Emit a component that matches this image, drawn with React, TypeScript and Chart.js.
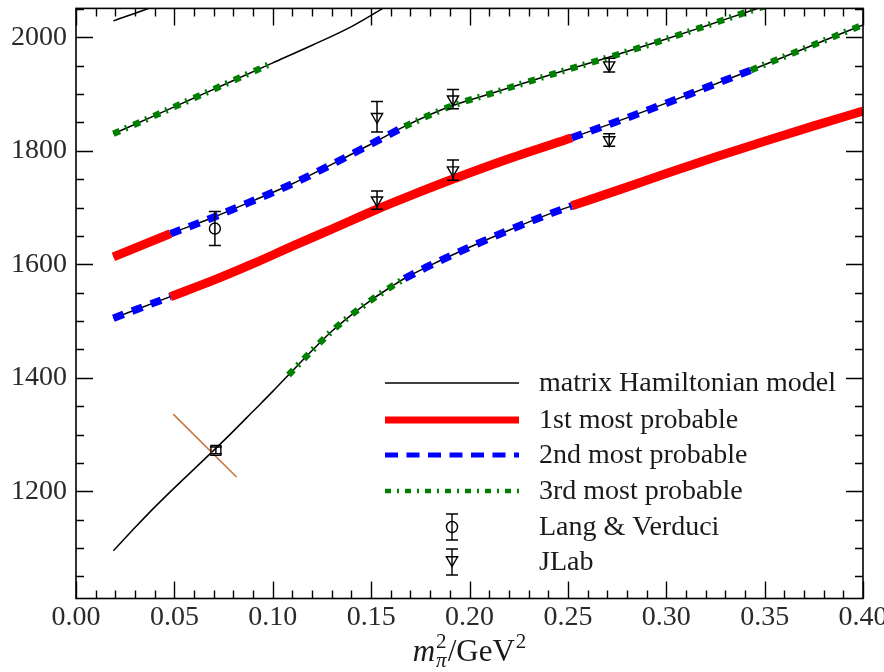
import React, { useEffect, useRef } from "react";
import { Chart, registerables } from "chart.js";

Chart.register(...registerables);

// ---------- axes ----------
const X_MIN = 0;
const X_MAX = 0.4;
const Y_MIN = 1011;
const Y_MAX = 2051;
const xTicks = [0, 0.05, 0.1, 0.15, 0.2, 0.25, 0.3, 0.35, 0.4];
const yTicks = [1200, 1400, 1600, 1800, 2000];
const xMinorStep = 0.01;
const yMinorStep = 50;

// ---------- eigenvalue curves (matrix Hamiltonian model) ----------
const curveAX = [0.019, 0.03, 0.04, 0.05, 0.06, 0.07, 0.08, 0.09, 0.1, 0.108, 0.12, 0.13, 0.14, 0.15, 0.16, 0.167, 0.18, 0.2, 0.22, 0.24, 0.252, 0.28, 0.3, 0.325, 0.35, 0.375, 0.4];
const curveAY = [1095, 1136, 1172, 1206, 1239, 1272, 1306, 1341, 1376, 1405, 1448, 1482, 1511, 1537, 1560, 1575, 1598, 1630, 1660, 1688, 1703, 1736, 1760, 1789, 1817, 1844, 1870];

const curveBX = [0.019, 0.048, 0.07, 0.09, 0.11, 0.13, 0.153, 0.17, 0.19, 0.22, 0.252, 0.28, 0.3, 0.32, 0.343, 0.37, 0.4];
const curveBY = [1505, 1543, 1572, 1601, 1632, 1662, 1697, 1721, 1748, 1786, 1823, 1858, 1884, 1911, 1942, 1980, 2022];

const curveCX = [0.019, 0.048, 0.07, 0.09, 0.11, 0.13, 0.15, 0.167, 0.19, 0.21, 0.244, 0.27, 0.3, 0.32, 0.343, 0.36];
const curveCY = [1613, 1654, 1683, 1712, 1742, 1776, 1812, 1843, 1878, 1900, 1937, 1964, 1997, 2020, 2047, 2066];

const curveDX = [0.019, 0.04, 0.06, 0.08, 0.1, 0.12, 0.14, 0.156, 0.17];
const curveDY = [1830, 1862, 1893, 1924, 1955, 1986, 2019, 2051, 2078];

const curveEX = [0.019, 0.04, 0.05];
const curveEY = [2029, 2055, 2070];

// ---------- most-probable-state segments: [curve, x from, x to] ----------
const redSegments: [string, number, number][] = [["C", 0.019, 0.048], ["B", 0.048, 0.252], ["A", 0.252, 0.4]];
const blueSegments: [string, number, number][] = [["B", 0.019, 0.048], ["C", 0.048, 0.167], ["A", 0.167, 0.252], ["B", 0.252, 0.343]];
const greenSegments: [string, number, number][] = [["D", 0.019, 0.1], ["C", 0.167, 0.36], ["A", 0.108, 0.167], ["B", 0.343, 0.4]];

// ---------- lattice data ----------
const langX = [0.0706];
const langY = [1663];
const langErr = [30];

const squareX = [0.0711];
const squareY = [1272];
const squareErr = [6];

const jlabX = [0.153, 0.153, 0.1916, 0.1916, 0.271, 0.271];
const jlabY = [1860, 1713, 1891, 1766, 1951, 1819];
const jlabErr = [27, 16, 17, 18, 12, 11];

// cross line through the physical point
const crossX = [0.0494, 0.0816];
const crossY = [1336, 1225];

const legendLabels = [
  "matrix Hamiltonian model",
  "1st most probable",
  "2nd most probable",
  "3rd most probable",
  "Lang & Verduci",
  "JLab",
];

const FONT = '"Liberation Serif", "Times New Roman", serif';
const RED = "#ff0000";
const BLUE = "#0000ff";
const GREEN = "#008000";
const BLUE_DASH = [11, 9];
const GREEN_DASH = [7, 6, 2, 7];

const curves: Record<string, { x: number[]; y: number[] }> = {
  A: { x: curveAX, y: curveAY },
  B: { x: curveBX, y: curveBY },
  C: { x: curveCX, y: curveCY },
  D: { x: curveDX, y: curveDY },
  E: { x: curveEX, y: curveEY },
};

function points(key: string, from = -Infinity, to = Infinity) {
  const c = curves[key];
  return c.x
    .map((x, i) => ({ x, y: c.y[i] }))
    .filter((p) => p.x >= from - 1e-9 && p.x <= to + 1e-9);
}

const lineBase = {
  showLine: true,
  pointRadius: 0,
  pointHoverRadius: 0,
  fill: false,
  cubicInterpolationMode: "monotone" as const,
  clip: 0,
  borderCapStyle: "butt" as const,
};

function buildDatasets() {
  const ds: any[] = [];
  ds.push({
    label: "JLab",
    data: jlabX.map((x, i) => ({ x, y: jlabY[i] })),
    yErr: jlabErr,
    showLine: false,
    pointStyle: "triangle",
    rotation: 180,
    pointRadius: 6.5,
    pointBorderWidth: 1.4,
    pointBorderColor: "#000",
    pointBackgroundColor: "rgba(0,0,0,0)",
    order: 1,
  });
  ds.push({
    label: "Lang & Verduci",
    data: langX.map((x, i) => ({ x, y: langY[i] })),
    yErr: langErr,
    showLine: false,
    pointStyle: "circle",
    pointRadius: 5.5,
    pointBorderWidth: 1.4,
    pointBorderColor: "#000",
    pointBackgroundColor: "rgba(0,0,0,0)",
    order: 1,
  });
  ds.push({
    label: "physical",
    data: squareX.map((x, i) => ({ x, y: squareY[i] })),
    yErr: squareErr,
    showLine: false,
    pointStyle: "rect",
    pointRadius: 7,
    pointBorderWidth: 1.4,
    pointBorderColor: "#000",
    pointBackgroundColor: "rgba(0,0,0,0)",
    order: 1,
  });
  ds.push({
    ...lineBase,
    label: "cross",
    data: crossX.map((x, i) => ({ x, y: crossY[i] })),
    cubicInterpolationMode: "default",
    borderColor: "#c8743c",
    borderWidth: 1.5,
    order: 2,
  });
  redSegments.forEach(([k, a, b]) =>
    ds.push({ ...lineBase, label: "1st", data: points(k, a, b), borderColor: RED, borderWidth: 9, order: 3 })
  );
  blueSegments.forEach(([k, a, b]) =>
    ds.push({ ...lineBase, label: "2nd", data: points(k, a, b), borderColor: BLUE, borderWidth: 7.5, borderDash: BLUE_DASH, order: 4 })
  );
  greenSegments.forEach(([k, a, b]) =>
    ds.push({ ...lineBase, label: "3rd", data: points(k, a, b), borderColor: GREEN, borderWidth: 6.5, borderDash: GREEN_DASH, order: 5 })
  );
  ["A", "B", "C", "D", "E"].forEach((k) =>
    ds.push({ ...lineBase, label: "model", data: points(k), borderColor: "#000", borderWidth: 1.5, order: 6 })
  );
  return ds;
}

function downTriangle(ctx: CanvasRenderingContext2D, x: number, y: number, r: number) {
  ctx.beginPath();
  ctx.moveTo(x - r * 0.866, y - r * 0.5);
  ctx.lineTo(x + r * 0.866, y - r * 0.5);
  ctx.lineTo(x, y + r);
  ctx.closePath();
  ctx.stroke();
}

function errorBar(ctx: CanvasRenderingContext2D, x: number, y0: number, y1: number, cap: number) {
  ctx.beginPath();
  ctx.moveTo(x, y0);
  ctx.lineTo(x, y1);
  ctx.moveTo(x - cap, y0);
  ctx.lineTo(x + cap, y0);
  ctx.moveTo(x - cap, y1);
  ctx.lineTo(x + cap, y1);
  ctx.stroke();
}

const decorPlugin = {
  id: "decor",
  afterDraw(chart: any) {
    const ctx: CanvasRenderingContext2D = chart.ctx;
    const xs = chart.scales.x;
    const ys = chart.scales.y;
    const { left, right, top, bottom } = chart.chartArea;
    ctx.save();

    // error bars
    ctx.strokeStyle = "#000";
    ctx.lineWidth = 1.5;
    chart.data.datasets.forEach((d: any) => {
      if (!d.yErr) return;
      d.data.forEach((p: any, i: number) => {
        const px = xs.getPixelForValue(p.x);
        errorBar(ctx, px, ys.getPixelForValue(p.y + d.yErr[i]), ys.getPixelForValue(p.y - d.yErr[i]), 6);
      });
    });

    // frame
    ctx.lineWidth = 1.6;
    ctx.strokeRect(left, top, right - left, bottom - top);

    // ticks (inward on all sides)
    ctx.lineWidth = 1.4;
    const MAJ = 17;
    const MIN = 8;
    ctx.beginPath();
    const nx = Math.round((X_MAX - X_MIN) / xMinorStep);
    for (let k = 0; k <= nx; k++) {
      const v = X_MIN + k * xMinorStep;
      const isMajor = xTicks.some((t) => Math.abs(t - v) < 1e-9);
      const len = isMajor ? MAJ : MIN;
      const px = Math.round(xs.getPixelForValue(v)) + 0.5;
      ctx.moveTo(px, bottom);
      ctx.lineTo(px, bottom - len);
      ctx.moveTo(px, top);
      ctx.lineTo(px, top + len);
    }
    for (let v = Math.ceil(Y_MIN / yMinorStep) * yMinorStep; v <= Y_MAX; v += yMinorStep) {
      const isMajor = yTicks.includes(v);
      const len = isMajor ? MAJ : MIN;
      const py = Math.round(ys.getPixelForValue(v)) + 0.5;
      ctx.moveTo(left, py);
      ctx.lineTo(left + len, py);
      ctx.moveTo(right, py);
      ctx.lineTo(right - len, py);
    }
    ctx.stroke();

    // legend
    const rowsY = [383, 420, 455, 491, 527, 562];
    const lx0 = 385;
    const lx1 = 519;
    const tx = 539;
    const mx = 452;
    ctx.lineCap = "butt";
    const drawLegLine = (y: number, color: string, w: number, dash: number[]) => {
      ctx.save();
      ctx.strokeStyle = color;
      ctx.lineWidth = w;
      ctx.setLineDash(dash);
      ctx.beginPath();
      ctx.moveTo(lx0, y);
      ctx.lineTo(lx1, y);
      ctx.stroke();
      ctx.restore();
    };
    drawLegLine(rowsY[0], "#000", 1.5, []);
    drawLegLine(rowsY[1], RED, 7, []);
    drawLegLine(rowsY[2], BLUE, 5, [13, 8.5]);
    drawLegLine(rowsY[3], GREEN, 4.5, [6, 6, 2, 6]);
    ctx.strokeStyle = "#000";
    ctx.lineWidth = 1.4;
    errorBar(ctx, mx, rowsY[4] - 13, rowsY[4] + 13, 6);
    ctx.beginPath();
    ctx.arc(mx, rowsY[4], 5.5, 0, Math.PI * 2);
    ctx.stroke();
    errorBar(ctx, mx, rowsY[5] - 13, rowsY[5] + 13, 6);
    downTriangle(ctx, mx, rowsY[5] - 2, 6.5);

    ctx.fillStyle = "#1a1a1a";
    ctx.font = `28px ${FONT}`;
    ctx.textAlign = "left";
    ctx.textBaseline = "middle";
    legendLabels.forEach((t, i) => ctx.fillText(t, tx, rowsY[i] + 1));

    // x-axis title: m_pi^2 / GeV^2
    const big = `31px ${FONT}`;
    const bigIt = `italic 31px ${FONT}`;
    const small = `21px ${FONT}`;
    const smallIt = `italic 21px ${FONT}`;
    const base = 661;
    ctx.textBaseline = "alphabetic";
    ctx.font = bigIt;
    const wM = ctx.measureText("m").width;
    ctx.font = small;
    const wSup = ctx.measureText("2").width;
    ctx.font = smallIt;
    const wPi = ctx.measureText("π").width;
    ctx.font = big;
    const wRest = ctx.measureText("/GeV").width;
    const total = wM + Math.max(wSup, wPi) + 2 + wRest + wSup + 1;
    let x = (left + right) / 2 - total / 2;
    ctx.font = bigIt;
    ctx.fillText("m", x, base);
    x += wM + 1;
    ctx.font = small;
    ctx.fillText("2", x, base - 13);
    ctx.font = smallIt;
    ctx.fillText("π", x, base + 6);
    x += Math.max(wSup, wPi) + 1;
    ctx.font = big;
    ctx.fillText("/GeV", x, base);
    x += wRest + 1;
    ctx.font = small;
    ctx.fillText("2", x, base - 13);

    ctx.restore();
  },
};

export default function App() {
  const ref = useRef<HTMLCanvasElement>(null);
  useEffect(() => {
    const canvas = ref.current!;
    const chart = new Chart(canvas, {
      type: "scatter",
      data: { datasets: buildDatasets() },
      options: {
        responsive: false,
        animation: false,
        devicePixelRatio: 1,
        events: [],
        layout: { padding: { left: 0, top: 5, right: 57, bottom: 0 } },
        plugins: { legend: { display: false }, tooltip: { enabled: false } },
        scales: {
          x: {
            type: "linear",
            min: X_MIN,
            max: X_MAX,
            grid: { display: false, drawTicks: false },
            border: { display: false },
            ticks: {
              font: { family: FONT, size: 28, lineHeight: 1 },
              color: "#2a2a2a",
              padding: 5,
              maxRotation: 0,
              autoSkip: false,
              callback: (v: any) => Number(v).toFixed(2),
            },
            afterBuildTicks: (s: any) => {
              s.ticks = xTicks.map((v) => ({ value: v }));
            },
            afterFit: (s: any) => {
              s.height = 73.5;
              s.paddingLeft = 0;
              s.paddingRight = 0;
            },
          },
          y: {
            type: "linear",
            min: Y_MIN,
            max: Y_MAX,
            grid: { display: false, drawTicks: false },
            border: { display: false },
            ticks: {
              font: { family: FONT, size: 28, lineHeight: 1 },
              color: "#2a2a2a",
              padding: 9,
              autoSkip: false,
              callback: (v: any) => String(v),
            },
            afterBuildTicks: (s: any) => {
              s.ticks = yTicks.map((v) => ({ value: v }));
            },
            afterFit: (s: any) => {
              s.width = 76;
              s.paddingTop = 0;
              s.paddingBottom = 0;
            },
          },
        },
      } as any,
      plugins: [decorPlugin],
    });
    return () => chart.destroy();
  }, []);
  return (
    <div
      style={{
        position: "fixed",
        left: 0,
        top: 0,
        width: 884,
        height: 672,
        overflow: "hidden",
        background: "#fff",
      }}
    >
      <canvas ref={ref} width={920} height={672} style={{ display: "block", width: 920, height: 672 }} />
    </div>
  );
}
